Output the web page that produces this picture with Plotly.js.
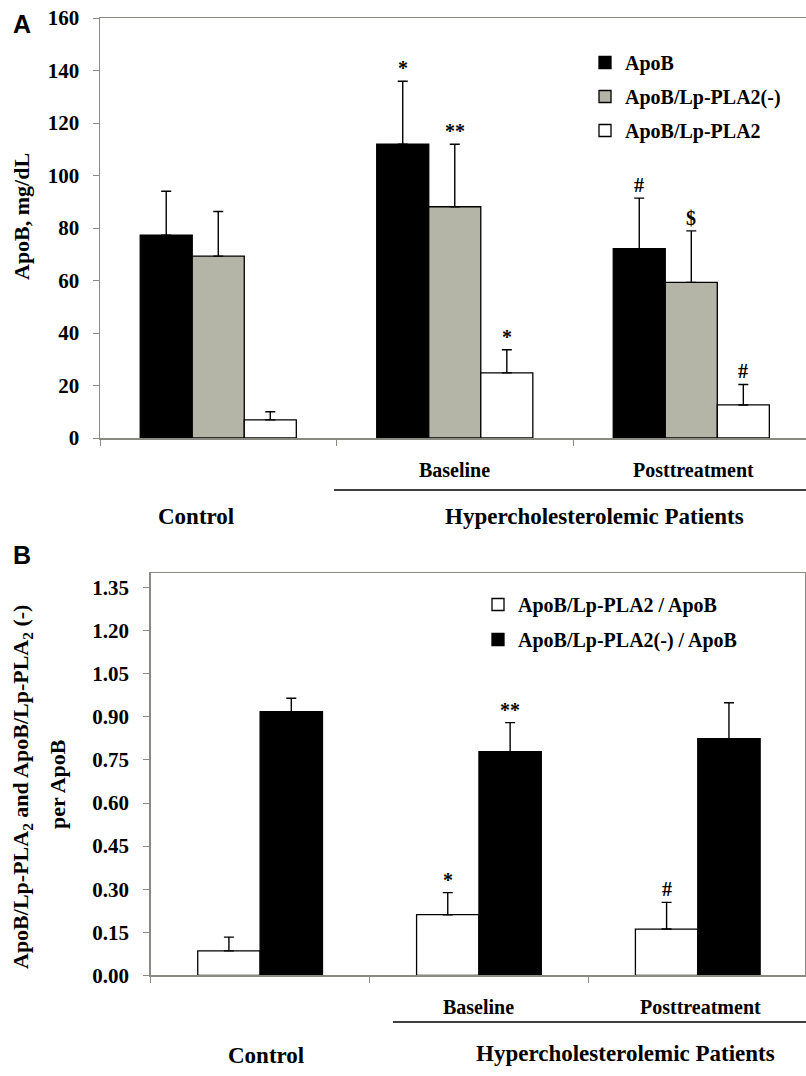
<!DOCTYPE html>
<html>
<head>
<meta charset="utf-8">
<script src="https://cdn.plot.ly/plotly-3.0.1.min.js"></script>
<style>html,body{margin:0;padding:0;background:#fff;}#chart{width:806px;height:1076px;}</style>
</head>
<body>
<div id="chart"></div>
<script>
// ---------- DATA ----------
const groupLabels = ['Control', 'Baseline', 'Posttreatment'];
const outerLabel = 'Hypercholesterolemic Patients';

// Panel A (mg/dL)
const namesA = ['ApoB', 'ApoB/Lp-PLA2(-)', 'ApoB/Lp-PLA2'];
const apoB      = [77.3, 111.9, 72.1];
const apoBErr   = [16.7, 24.0, 19.3];
const apoBNeg   = [69.3, 88.1, 59.3];
const apoBNegErr= [17.0, 23.8, 19.6];
const apoBPos   = [6.9, 24.8, 12.6];
const apoBPosErr= [3.1, 8.8, 7.8];
const sigApoB   = ['', '*', '#'];
const sigApoBNeg= ['', '**', '$'];
const sigApoBPos= ['', '*', '#'];

// Panel B (ratio)
const namesB = ['ApoB/Lp-PLA2 / ApoB', 'ApoB/Lp-PLA2(-) / ApoB'];
const ratioPos    = [0.085, 0.211, 0.161];
const ratioPosErr = [0.048, 0.077, 0.093];
const ratioNeg    = [0.918, 0.779, 0.824];
const ratioNegErr = [0.047, 0.101, 0.125];
const sigRatioPos = ['', '*', '#'];
const sigRatioNeg = ['', '**', ''];

// ---------- STYLE ----------
const W = 806, H = 1076;
const px = x => x / W;
const py = y => 1 - y / H;
const SERIF = 'Liberation Serif, Times New Roman, serif';
const AXC = '#8a8a82';
const GRAY = '#b5b5a7';
const xIdx = groupLabels.map((_, i) => i);

const wA = 0.22, offA = [-0.33, -0.11, 0.11];
const wB = 0.285, offB = [-0.285, 0];

function barTrace(name, y, err, fill, w, off, xa, ya, leg) {
  return {
    type: 'bar', name: name, x: xIdx, y: y,
    width: w, offset: off,
    xaxis: xa, yaxis: ya, legend: leg, legendgroup: name,
    marker: {color: fill, line: {color: '#000', width: 1.3}},
    error_y: {type: 'data', symmetric: false, array: err, arrayminus: y.map(() => 0),
              color: '#000', thickness: 1.4, width: 5},
    hoverinfo: 'skip'
  };
}

const data = [
  barTrace(namesA[0], apoB, apoBErr, '#000000', wA, offA[0], 'x', 'y', 'legend'),
  barTrace(namesA[1], apoBNeg, apoBNegErr, GRAY, wA, offA[1], 'x', 'y', 'legend'),
  barTrace(namesA[2], apoBPos, apoBPosErr, '#ffffff', wA, offA[2], 'x', 'y', 'legend'),
  barTrace(namesB[0], ratioPos, ratioPosErr, '#ffffff', wB, offB[0], 'x2', 'y2', 'legend2'),
  barTrace(namesB[1], ratioNeg, ratioNegErr, '#000000', wB, offB[1], 'x2', 'y2', 'legend2')
];

const annotations = [];
function addSig(sig, vals, errs, w, off, xr, yr) {
  sig.forEach((s, i) => {
    if (!s) return;
    annotations.push({
      text: s, x: i + off + w / 2, y: vals[i] + errs[i], xref: xr, yref: yr,
      xanchor: 'center', yanchor: 'bottom', yshift: 0, showarrow: false,
      font: {family: SERIF, size: 20, color: '#000', weight: 'bold'}
    });
  });
}
addSig(sigApoB, apoB, apoBErr, wA, offA[0], 'x', 'y');
addSig(sigApoBNeg, apoBNeg, apoBNegErr, wA, offA[1], 'x', 'y');
addSig(sigApoBPos, apoBPos, apoBPosErr, wA, offA[2], 'x', 'y');
addSig(sigRatioPos, ratioPos, ratioPosErr, wB, offB[0], 'x2', 'y2');
addSig(sigRatioNeg, ratioNeg, ratioNegErr, wB, offB[1], 'x2', 'y2');

function txt(t, x, y, size, family) {
  annotations.push({text: t, x: px(x), y: py(y), xref: 'paper', yref: 'paper',
    xanchor: 'center', yanchor: 'middle', showarrow: false,
    font: {family: family || SERIF, size: size, color: '#000', weight: 'bold'}});
}
function vtxt(t, x, y, size) {
  annotations.push({text: t, x: px(x), y: py(y), xref: 'paper', yref: 'paper',
    xanchor: 'center', yanchor: 'middle', showarrow: false, textangle: -90,
    font: {family: SERIF, size: size, color: '#000', weight: 'bold'}});
}
// Panel A labels
txt('A', 22, 24, 25, 'Liberation Sans, Arial, sans-serif');
txt(groupLabels[1], 454, 470, 20);
txt(groupLabels[2], 693, 470, 20);
txt(groupLabels[0], 196, 516, 23);
txt(outerLabel, 594, 516, 23);
vtxt('ApoB, mg/dL', 22, 217, 22);
// Panel B labels
txt('B', 22, 555, 25, 'Liberation Sans, Arial, sans-serif');
txt(groupLabels[1], 478, 1007, 20);
txt(groupLabels[2], 700, 1007, 20);
txt(groupLabels[0], 266, 1055, 23);
txt(outerLabel, 625, 1053, 23);
vtxt('ApoB/Lp-PLA<sub>2</sub> and ApoB/Lp-PLA<sub>2</sub> (-)', 22, 787, 22);
vtxt('per ApoB', 57, 784, 22);

const shapes = [
  {type: 'line', xref: 'paper', yref: 'paper', x0: px(334), x1: 1, y0: py(490), y1: py(490),
   line: {color: '#000', width: 1.5}},
  {type: 'line', xref: 'paper', yref: 'paper', x0: px(393), x1: 1, y0: py(1022), y1: py(1022),
   line: {color: '#000', width: 1.5}}
];

const tickFont = {family: SERIF, size: 21, color: '#000', weight: 'bold'};
const legFont = {family: SERIF, size: 20, color: '#000', weight: 'bold'};

const layout = {
  width: W, height: H,
  margin: {l: 0, r: 0, t: 0, b: 0, pad: 0},
  paper_bgcolor: '#fff', plot_bgcolor: '#fff',
  barmode: 'overlay',
  showlegend: true,
  xaxis: {domain: [px(100), 1], range: [-0.5, 2.485], type: 'linear',
    tickmode: 'array', tickvals: [-0.5, 0.5, 1.5, 2.5], showticklabels: false,
    ticks: 'outside', ticklen: 6, tickcolor: AXC, showline: true, linecolor: AXC, linewidth: 1.5,
    mirror: true, showgrid: false, zeroline: false, fixedrange: true},
  yaxis: {domain: [py(438), py(18)], range: [0, 160], dtick: 20, tick0: 0,
    ticks: 'outside', ticklen: 6, tickcolor: AXC, showline: true, linecolor: AXC, linewidth: 1.5,
    showgrid: false, zeroline: false, tickfont: tickFont, ticklabelstandoff: 9, fixedrange: true},
  xaxis2: {domain: [px(150.7), px(805)], range: [-0.5, 2.49], type: 'linear', anchor: 'y2',
    tickmode: 'array', tickvals: [-0.5, 0.5, 1.5, 2.5], showticklabels: false,
    ticks: 'outside', ticklen: 6, tickcolor: AXC, showline: true, linecolor: AXC, linewidth: 1.5,
    mirror: true, showgrid: false, zeroline: false, fixedrange: true},
  yaxis2: {domain: [py(975.3), py(573.3)], range: [0, 1.4], dtick: 0.15, tick0: 0, anchor: 'x2',
    tickformat: '.2f',
    ticks: 'outside', ticklen: 6, tickcolor: AXC, showline: true, linecolor: AXC, linewidth: 1.5,
    mirror: true, showgrid: false, zeroline: false, tickfont: tickFont, ticklabelstandoff: 10, fixedrange: true},
  legend: {x: px(585), xanchor: 'left', y: py(43), yanchor: 'top', font: legFont,
    bgcolor: 'rgba(0,0,0,0)', traceorder: 'grouped', tracegroupgap: 5},
  legend2: {x: px(478), xanchor: 'left', y: py(585), yanchor: 'top', font: legFont,
    bgcolor: 'rgba(0,0,0,0)', traceorder: 'grouped', tracegroupgap: 6},
  annotations: annotations,
  shapes: shapes
};

Plotly.newPlot('chart', data, layout, {displayModeBar: false, staticPlot: true});
</script>
</body>
</html>
